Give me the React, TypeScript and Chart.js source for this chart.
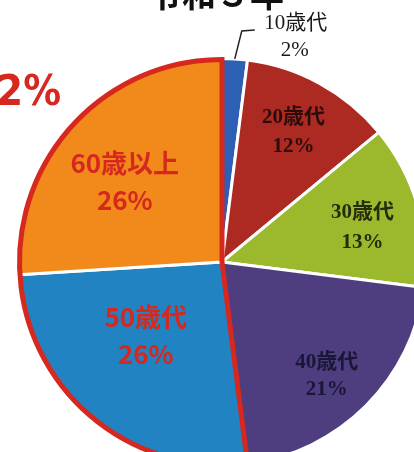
import React, { useEffect, useRef } from 'react';
import { Chart, registerables } from 'chart.js';

Chart.register(...registerables);

// ---- data ----
const categories = ['10歳代', '20歳代', '30歳代', '40歳代', '50歳代', '60歳以上'];
const shares = [2, 12, 13, 21, 26, 26];
const titleText = '令和３年';
const highlightText = '52%';
const highlightSlices = [4, 5];

// ---- styles ----
const sliceColors = ['#2d5fb5', '#ac2a21', '#9cb82d', '#4e3e80', '#2183c2', '#f18a1b'];
const SERIF = '"Liberation Serif", "DejaVu Serif", "Noto Sans CJK JP", serif';
const SANS = '"Noto Sans CJK JP", "Liberation Sans", sans-serif';
const RED = '#d6281f';
// radius factor, angle offset (deg), line gap, colour, font
const labelStyles: any[] = [
  null,
  { f: 0.73, da: 0, gap: 29, color: '#2a0d0a', font: `bold 21px ${SERIF}` },
  { f: 0.71, da: 2.6, gap: 30, color: '#242c0c', font: `bold 21px ${SERIF}` },
  { f: 0.76, da: 2.4, gap: 27, color: '#1a1636', font: `bold 21px ${SERIF}` },
  { f: 0.52, da: 6.5, gap: 37, color: RED, font: `bold 26px ${SANS}` },
  { f: 0.62, da: -3.6, gap: 37, color: RED, font: `bold 26px ${SANS}` },
];

const overlay = {
  id: 'overlay',
  afterDatasetsDraw(chart: any) {
    const ctx = chart.ctx as CanvasRenderingContext2D;
    const arcs = chart.getDatasetMeta(0).data as any[];
    const props = arcs.map((a) =>
      a.getProps(['x', 'y', 'startAngle', 'endAngle', 'outerRadius'], true)
    );
    ctx.save();

    // red outline around highlighted slices
    const a = props[highlightSlices[0]];
    const b = props[highlightSlices[highlightSlices.length - 1]];
    ctx.beginPath();
    ctx.moveTo(a.x, a.y);
    ctx.arc(a.x, a.y, a.outerRadius - 1, a.startAngle, b.endAngle);
    ctx.closePath();
    ctx.strokeStyle = RED;
    ctx.lineWidth = 5;
    ctx.lineJoin = 'miter';
    ctx.stroke();

    // inner labels
    ctx.textAlign = 'center';
    ctx.textBaseline = 'middle';
    props.forEach((p, i) => {
      const st = labelStyles[i];
      if (!st) return;
      const mid = (p.startAngle + p.endAngle) / 2 + (st.da * Math.PI) / 180;
      const cx = p.x + Math.cos(mid) * p.outerRadius * st.f;
      const cy = p.y + Math.sin(mid) * p.outerRadius * st.f;
      ctx.fillStyle = st.color;
      ctx.font = st.font;
      ctx.fillText(categories[i], cx, cy - st.gap / 2);
      ctx.fillText(shares[i] + '%', cx, cy + st.gap / 2);
    });

    // outside label for the smallest slice
    const s = props[0];
    const m0 = (s.startAngle + s.endAngle) / 2;
    const ex = s.x + Math.cos(m0) * s.outerRadius;
    const ey = s.y + Math.sin(m0) * s.outerRadius;
    ctx.beginPath();
    ctx.moveTo(ex, ey);
    ctx.lineTo(ex + 7, ey - 28);
    ctx.lineTo(ex + 20, ey - 29);
    ctx.strokeStyle = '#222';
    ctx.lineWidth = 1.5;
    ctx.stroke();
    ctx.fillStyle = '#1a1a1a';
    ctx.font = `21px ${SERIF}`;
    ctx.fillText(categories[0], ex + 61, ey - 35);
    ctx.fillText(shares[0] + '%', ex + 60, ey - 8);

    // title (cut at top)
    ctx.fillStyle = '#111';
    ctx.font = `bold 34px ${SANS}`;
    ctx.textBaseline = 'alphabetic';
    ctx.fillText(titleText, 216, 7);

    // highlighted total
    ctx.fillStyle = RED;
    ctx.font = `bold 42px "Liberation Sans Narrow", "DejaVu Sans Condensed", "Liberation Sans", sans-serif`;
    ctx.textAlign = 'right';
    ctx.fillText(highlightText, 61, 105);

    ctx.restore();
  },
};

export default function App() {
  const ref = useRef<HTMLCanvasElement>(null);
  useEffect(() => {
    if (!ref.current) return;
    const chart = new Chart(ref.current, {
      type: 'pie',
      data: {
        labels: categories,
        datasets: [
          {
            data: shares,
            backgroundColor: sliceColors,
            borderColor: '#ffffff',
            borderWidth: 3,
          },
        ],
      },
      options: {
        responsive: false,
        animation: false,
        layout: { padding: { left: 17, top: 57, right: 13, bottom: 13 } },
        plugins: {
          legend: { display: false },
          tooltip: { enabled: false },
          title: { display: false },
        },
      },
      plugins: [overlay],
    });
    return () => chart.destroy();
  }, []);
  return (
    <div
      style={{
        position: 'fixed',
        left: 0,
        top: 0,
        width: 414,
        height: 452,
        overflow: 'hidden',
        background: '#fff',
      }}
    >
      <canvas ref={ref} width={440} height={480} style={{ display: 'block' }} />
    </div>
  );
}
